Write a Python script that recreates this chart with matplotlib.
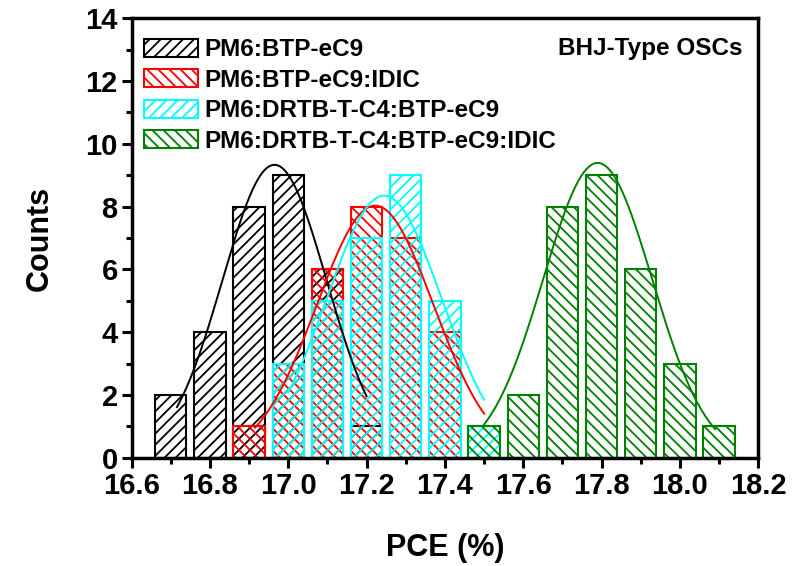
import numpy as np
import matplotlib
matplotlib.use('Agg')
import matplotlib.pyplot as plt
from matplotlib.patches import Patch

plt.rcParams['font.family'] = ['Liberation Sans', 'DejaVu Sans']
plt.rcParams['font.weight'] = 'bold'
plt.rcParams['hatch.linewidth'] = 1.3

# Data (bin centers, counts)
labels = ['PM6:BTP-eC9', 'PM6:BTP-eC9:IDIC',
          'PM6:DRTB-T-C4:BTP-eC9', 'PM6:DRTB-T-C4:BTP-eC9:IDIC']
colors = ['black', 'red', 'cyan', 'green']
hatches = ['///', '\\\\\\', '///', '\\\\\\']

pce_black = [16.7, 16.8, 16.9, 17.0, 17.1, 17.2]
cnt_black = [2, 4, 8, 9, 6, 1]
pce_red = [16.9, 17.0, 17.1, 17.2, 17.3, 17.4]
cnt_red = [1, 3, 6, 8, 7, 4]
pce_cyan = [17.0, 17.1, 17.2, 17.3, 17.4, 17.5]
cnt_cyan = [3, 5, 7, 9, 5, 1]
pce_green = [17.5, 17.6, 17.7, 17.8, 17.9, 18.0, 18.1]
cnt_green = [1, 2, 8, 9, 6, 3, 1]

# Gaussian fit curves: (amplitude, center, sigma, x start, x end)
fit_black = (9.33, 16.965, 0.133, 16.716, 17.20)
fit_red = (8.03, 17.222, 0.149, 16.915, 17.50)
fit_cyan = (8.35, 17.245, 0.147, 17.00, 17.50)
fit_green = (9.39, 17.79, 0.139, 17.50, 18.09)

xs = [pce_black, pce_red, pce_cyan, pce_green]
ys = [cnt_black, cnt_red, cnt_cyan, cnt_green]
fits = [fit_black, fit_red, fit_cyan, fit_green]

fig = plt.figure(figsize=(8.04, 5.66), dpi=100)
ax = fig.add_axes([0.1636, 0.191, 0.7795, 0.777])

for x, y, c, h in zip(xs, ys, colors, hatches):
    ax.bar(x, y, width=0.08, facecolor='none', edgecolor=c, hatch=h,
           linewidth=1.5)

for (a, mu, s, x0, x1), c in zip(fits, colors):
    xx = np.linspace(x0, x1, 200)
    ax.plot(xx, a * np.exp(-(xx - mu) ** 2 / (2 * s ** 2)), color=c, lw=1.4)

ax.set_xlim(16.6, 18.2)
ax.set_ylim(0, 14)
ax.set_xticks(np.arange(16.6, 18.21, 0.2))
ax.set_xticks(np.arange(16.7, 18.2, 0.2), minor=True)
ax.set_yticks(np.arange(0, 15, 2))
ax.set_yticks(np.arange(1, 14, 2), minor=True)
ax.xaxis.set_major_formatter(matplotlib.ticker.FormatStrFormatter('%.1f'))
ax.tick_params(which='major', direction='out', length=7, width=2.2, labelsize=21, pad=3)
ax.tick_params(which='minor', direction='out', length=4, width=2.2)
for sp in ax.spines.values():
    sp.set_linewidth(2.5)

ax.set_xlabel('PCE (%)', fontsize=22, fontweight='bold', labelpad=24)
ax.set_ylabel('Counts', fontsize=22, fontweight='bold', labelpad=22)

handles = [Patch(facecolor='none', edgecolor=c, hatch=h, linewidth=1.5)
           for c, h in zip(colors, hatches)]
ax.legend(handles, labels, loc='upper left', frameon=False, fontsize=17.5,
          handlelength=2.22, handleheight=0.74, labelspacing=0.31,
          handletextpad=0.29, borderaxespad=0.1, bbox_to_anchor=(0.0, 0.982))

ax.text(0.975, 0.932, 'BHJ-Type OSCs', transform=ax.transAxes, ha='right',
        va='center', fontsize=17.5, fontweight='bold')

fig.savefig('out.png', dpi=100)
